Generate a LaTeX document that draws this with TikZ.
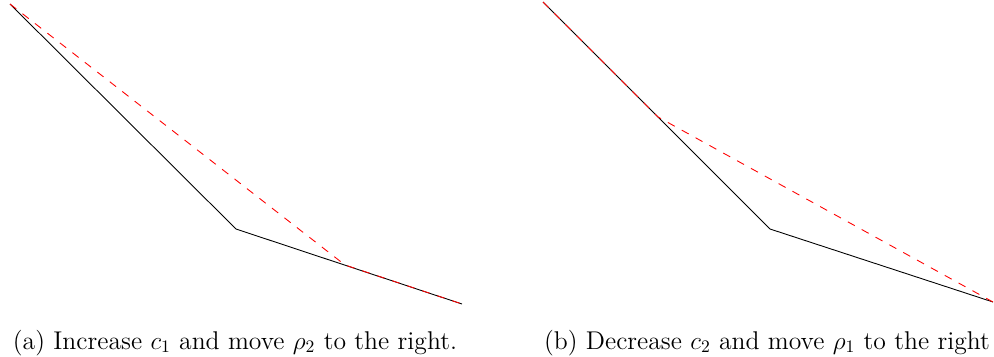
\documentclass[tikz,border=0pt]{standalone}
\usetikzlibrary{positioning}
\tikzset{
    curve/.style={black, line width=0.5pt},
    shifted/.style={red, line width=0.5pt, dash pattern=on 4.5pt off 4.5pt},
    caption/.style={anchor=base, font=\fontsize{14.6}{17}\selectfont}
}
\begin{document}
\begin{tikzpicture}[x=0.02cm, y=-0.02cm]
    \useasboundingbox (0,0) rectangle (994,356);

    % (a) left panel
    \coordinate (a0) at (10,4);
    \coordinate (a1) at (236,229);
    \coordinate (a2) at (462,304);
    \coordinate (ak) at (345,265);
    \draw[curve] (a0) -- (a1) -- (a2);
    \draw[shifted] (a0) -- (ak) -- (a2);
    \node[caption] (capa) at (235,349) {(a) Increase $c_1$ and move $\rho_2$ to the right.};

    % (b) right panel
    \coordinate (b0) at (543,2);
    \coordinate (b1) at (770,229);
    \coordinate (b2) at (993,302);
    \coordinate (bk) at (658,117);
    \draw[curve] (b0) -- (b1) -- (b2);
    \draw[shifted] (b0) -- (bk) -- (b2);
    \node[caption] (capb) at (767,349) {(b) Decrease $c_2$ and move $\rho_1$ to the right};
\end{tikzpicture}
\end{document}
